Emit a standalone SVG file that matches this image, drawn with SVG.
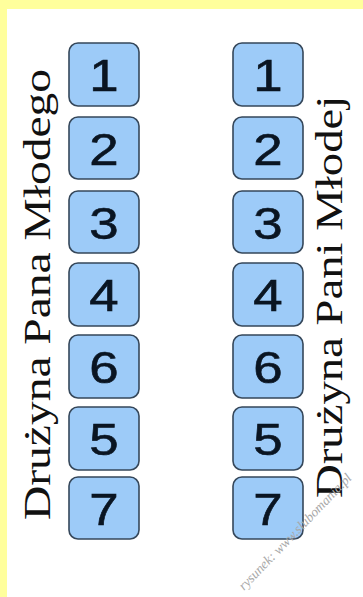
<svg xmlns="http://www.w3.org/2000/svg" width="363" height="597" viewBox="0 0 363 597">
<style>
.box{fill:#9dcbf8;stroke:#35475a;stroke-width:1.6}
.num{font-family:"Liberation Sans",Arial,sans-serif;font-size:44px;fill:#0a1522;text-anchor:middle;stroke:#0a1522;stroke-width:0.6}
.lbl{font-family:"Liberation Serif","Times New Roman",serif;font-size:38px;fill:#111}
.wm{font-family:"Liberation Serif",serif;font-style:italic;font-size:13.5px;fill:#a8a8a8}
</style>
<rect x="0" y="0" width="363" height="597" fill="#ffff9c"/>
<rect x="7" y="9" width="356" height="588" fill="#ffffff"/>
<g id="label-left"><text class="lbl" transform="translate(50,520) rotate(-90) scale(1.25,1)">Drużyna Pana Młodego</text></g>
<g id="label-right"><text class="lbl" transform="translate(342,498) rotate(-90) scale(1.23,1)">Drużyna Pani Młodej</text></g>
<g id="L1"><rect class="box" x="69" y="43" width="70" height="63" rx="9"/><text class="num" transform="translate(104,91) scale(1.2,1)">1</text></g>
<g id="L2"><rect class="box" x="69" y="117" width="70" height="62" rx="9"/><text class="num" transform="translate(104,165) scale(1.2,1)">2</text></g>
<g id="L3"><rect class="box" x="69" y="191" width="70" height="62" rx="9"/><text class="num" transform="translate(104,239) scale(1.2,1)">3</text></g>
<g id="L4"><rect class="box" x="69" y="263" width="70" height="63" rx="9"/><text class="num" transform="translate(104,311) scale(1.2,1)">4</text></g>
<g id="L6"><rect class="box" x="69" y="335" width="70" height="63" rx="9"/><text class="num" transform="translate(104,383) scale(1.2,1)">6</text></g>
<g id="L5"><rect class="box" x="69" y="407" width="70" height="63" rx="9"/><text class="num" transform="translate(104,455) scale(1.2,1)">5</text></g>
<g id="L7"><rect class="box" x="69" y="477" width="70" height="62" rx="9"/><text class="num" transform="translate(104,525) scale(1.2,1)">7</text></g>
<g id="R1"><rect class="box" x="233" y="43" width="70" height="63" rx="9"/><text class="num" transform="translate(268,91) scale(1.2,1)">1</text></g>
<g id="R2"><rect class="box" x="233" y="117" width="70" height="62" rx="9"/><text class="num" transform="translate(268,165) scale(1.2,1)">2</text></g>
<g id="R3"><rect class="box" x="233" y="191" width="70" height="62" rx="9"/><text class="num" transform="translate(268,239) scale(1.2,1)">3</text></g>
<g id="R4"><rect class="box" x="233" y="263" width="70" height="63" rx="9"/><text class="num" transform="translate(268,311) scale(1.2,1)">4</text></g>
<g id="R6"><rect class="box" x="233" y="335" width="70" height="63" rx="9"/><text class="num" transform="translate(268,383) scale(1.2,1)">6</text></g>
<g id="R5"><rect class="box" x="233" y="407" width="70" height="63" rx="9"/><text class="num" transform="translate(268,455) scale(1.2,1)">5</text></g>
<g id="R7"><rect class="box" x="233" y="477" width="70" height="62" rx="9"/><text class="num" transform="translate(268,525) scale(1.2,1)">7</text></g>
<g id="watermark"><text class="wm" transform="translate(244,591) rotate(-46)">rysunek: www.slubomania.pl</text></g>
</svg>
